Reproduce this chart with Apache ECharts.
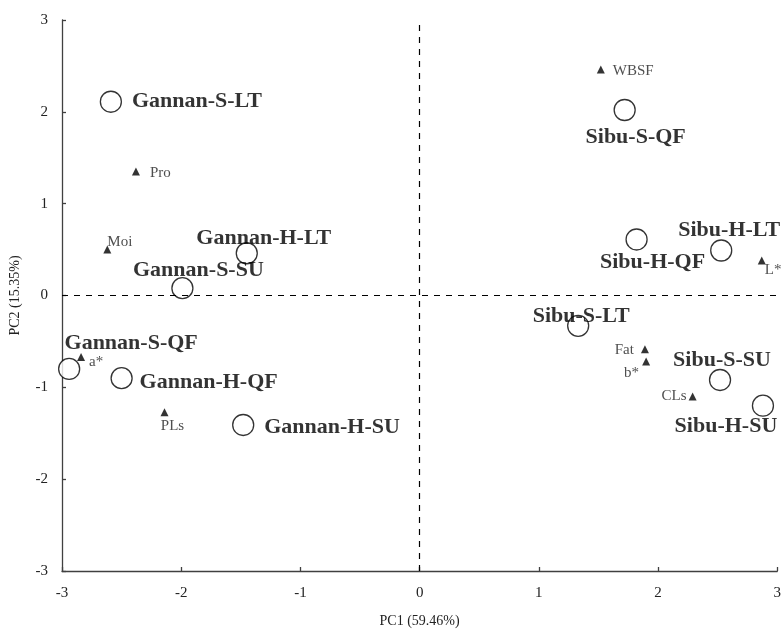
<!DOCTYPE html>
<html>
<head>
<meta charset="utf-8">
<script src="https://cdn.jsdelivr.net/npm/echarts@6/dist/echarts.min.js"></script>
<style>html,body{margin:0;padding:0;background:#fff}#c{width:784px;height:633px}</style>
</head>
<body>
<div id="c"></div>
<script>
// Samples (circles)
var sampleNames = ['Gannan-S-LT','Gannan-H-LT','Gannan-S-SU','Gannan-S-QF','Gannan-H-QF','Gannan-H-SU',
                   'Sibu-S-QF','Sibu-H-QF','Sibu-H-LT','Sibu-S-LT','Sibu-S-SU','Sibu-H-SU'];
var samplePC1 = [-2.59,-1.45,-1.99,-2.94,-2.50,-1.48, 1.72,1.82,2.53,1.33,2.52,2.88];
var samplePC2 = [ 2.11, 0.46, 0.08,-0.80,-0.90,-1.41, 2.02,0.61,0.49,-0.33,-0.92,-1.20];
// Variables (triangles)
var varNames = ['Pro','Moi','a*','PLs','WBSF','L*','Fat','b*','CLs'];
var varPC1 = [-2.38,-2.62,-2.84,-2.14,1.52,2.87,1.89,1.90,2.29];
var varPC2 = [ 1.35, 0.50,-0.67,-1.27,2.46,0.38,-0.585,-0.72,-1.10];
var xTicks = [-3,-2,-1,0,1,2,3];
var yTicks = [-3,-2,-1,0,1,2,3];
var xTitle = 'PC1 (59.46%)';
var yTitle = 'PC2 (15.35%)';

// label placement (layout only): [align, dx, dy]
var sampleLabelPos = {
  'Gannan-S-LT':['left',21,0], 'Gannan-H-LT':['center',17,-15], 'Gannan-S-SU':['center',16,-18],
  'Gannan-S-QF':['center',62,-26], 'Gannan-H-QF':['left',18,4], 'Gannan-H-SU':['left',21,2],
  'Sibu-S-QF':['center',11,27], 'Sibu-H-QF':['center',16,23], 'Sibu-H-LT':['center',8,-20],
  'Sibu-S-LT':['center',3,-9], 'Sibu-S-SU':['center',2,-20], 'Sibu-H-SU':['center',-37,21]
};
var varLabelPos = {
  'Pro':['left',14,2], 'Moi':['left',0,-8], 'a*':['left',8,5], 'PLs':['center',8,14],
  'WBSF':['left',12,1], 'L*':['left',3,9], 'Fat':['right',-11,1], 'b*':['right',-7,11], 'CLs':['right',-6,0]
};

var serif = '"Liberation Serif","Times New Roman",serif';

var sampleData = sampleNames.map(function(n,i){
  var p = sampleLabelPos[n];
  return {value:[samplePC1[i],samplePC2[i]], name:n,
    label:{show:true, position:'inside', formatter:n, align:p[0], verticalAlign:'middle', offset:[p[1],p[2]],
      fontFamily:serif, fontWeight:'bold', fontSize:22, color:'#000'}};
});
var varData = varNames.map(function(n,i){
  var p = varLabelPos[n];
  return {value:[varPC1[i],varPC2[i]], name:n,
    label:{show:true, position:'inside', formatter:n, align:p[0], verticalAlign:'middle', offset:[p[1],p[2]],
      fontFamily:serif, fontSize:15, color:'#222'}};
});

var chart = echarts.init(document.getElementById('c'), null, {renderer:'canvas'});
var axisCommon = {
  type:'value', min:-3, max:3, interval:1,
  axisLine:{show:true, onZero:false, lineStyle:{color:'#404040', width:1.3}},
  axisTick:{show:true, inside:true, length:4, lineStyle:{color:'#404040', width:1.3}},
  splitLine:{show:false},
  nameTextStyle:{fontFamily:serif, fontSize:14, color:'#222'},
  axisLabel:{fontFamily:serif, fontSize:15, color:'#222'}
};
chart.setOption({
  animation:false,
  backgroundColor:'#fff',
  grid:{left:59, right:5, top:20, bottom:59, containLabel:false},
  xAxis:Object.assign({}, axisCommon, {
    name:xTitle, nameLocation:'middle', nameGap:43,
    axisLabel:Object.assign({}, axisCommon.axisLabel, {margin:15, formatter:function(v){return xTicks.indexOf(v)>=0?String(v):'';}})
  }),
  yAxis:Object.assign({}, axisCommon, {
    name:yTitle, nameLocation:'middle', nameGap:40, nameRotate:90,
    axisLabel:Object.assign({}, axisCommon.axisLabel, {margin:14, formatter:function(v){return yTicks.indexOf(v)>=0?String(v):'';}})
  }),
  series:[
    {type:'scatter', data:sampleData, symbol:'circle', symbolSize:21,
      itemStyle:{color:'#fff', borderColor:'#000', borderWidth:1.3}, z:3,
      markLine:{silent:true, symbol:'none', label:{show:false},
        lineStyle:{color:'#000', type:[6,6], width:1.2},
        data:[{xAxis:0},{yAxis:0}]}},
    {type:'scatter', data:varData, symbol:'triangle', symbolSize:8,
      itemStyle:{color:'#000'}, z:4}
  ]
});
</script>
</body>
</html>
